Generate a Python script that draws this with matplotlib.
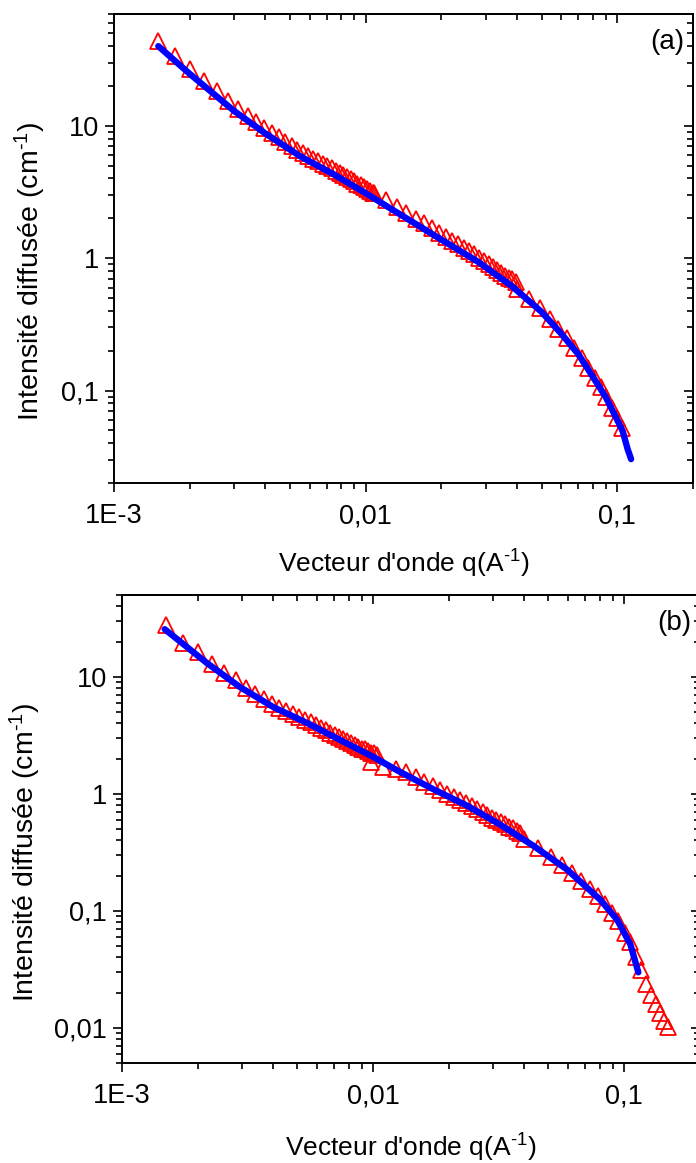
import matplotlib
matplotlib.use('Agg')
import matplotlib.pyplot as plt
from matplotlib.ticker import NullFormatter

plt.rcParams['font.family'] = 'Liberation Sans'
plt.rcParams['mathtext.fontset'] = 'custom'
plt.rcParams['mathtext.rm'] = 'Liberation Sans'
plt.rcParams['mathtext.it'] = 'Liberation Sans:italic'
plt.rcParams['mathtext.bf'] = 'Liberation Sans:bold'

# ---- panel (a) : measured intensity (triangles) and fit (blue line)
q_a_exp = [
    # first configuration
    0.00150, 0.00175, 0.00200, 0.00228, 0.00256, 0.00284, 0.00312, 0.00340, 0.00368, 0.00396,
    0.00424, 0.00452, 0.00480, 0.00508, 0.00536, 0.00564, 0.00592, 0.00620, 0.00648, 0.00676,
    0.00704, 0.00732, 0.00760, 0.00788, 0.00816, 0.00844, 0.00872, 0.00900, 0.00928, 0.00956,
    0.00984, 0.01012, 0.01040, 0.01068,
    # second configuration
    0.0108, 0.0120, 0.0133, 0.0145, 0.0158, 0.0170, 0.0183, 0.0195, 0.0208, 0.0220,
    0.0233, 0.0245, 0.0258, 0.0270, 0.0283, 0.0295, 0.0308, 0.0320, 0.0333, 0.0345,
    0.0358, 0.0370, 0.0383, 0.0395,
    # third configuration
    0.0400, 0.0446, 0.0492, 0.0538, 0.0584, 0.0630, 0.0676, 0.0722, 0.0768, 0.0814,
    0.0860, 0.0906, 0.0952, 0.0998, 0.1044]
i_a_exp = [
    43.6, 33.6, 26.9, 21.8, 18.2, 15.4, 13.4, 11.9, 10.7, 9.64,
    8.85, 8.17, 7.59, 7.05, 6.61, 6.24, 5.94, 5.66, 5.41, 5.19,
    4.97, 4.78, 4.59, 4.41, 4.24, 4.08, 3.94, 3.80, 3.66, 3.56,
    3.44, 3.33, 3.22, 3.12,
    3.11, 2.75, 2.44, 2.21, 1.99, 1.83, 1.68, 1.56, 1.45, 1.36,
    1.27, 1.20, 1.13, 1.07, 1.01, 0.957, 0.902, 0.857, 0.813, 0.774,
    0.736, 0.705, 0.702, 0.665,
    0.589, 0.492, 0.418, 0.348, 0.294, 0.248, 0.210, 0.177, 0.149, 0.125,
    0.106, 0.0899, 0.0743, 0.0625, 0.0522]

q_a_fit = [0.0015, 0.0020, 0.0030, 0.0040, 0.0055, 0.0075, 0.010, 0.014, 0.020, 0.028,
           0.038, 0.050, 0.060, 0.070, 0.080, 0.090, 0.100, 0.105, 0.110, 0.1135]
i_a_fit = [40.0, 24.7, 12.97, 8.74, 5.88, 4.28, 3.10, 2.09, 1.38, 0.938,
           0.618, 0.393, 0.268, 0.188, 0.127, 0.0892, 0.0599, 0.0495, 0.036, 0.0303]

# ---- panel (b)
q_b_exp = [
    0.00150, 0.00175, 0.00200, 0.00228, 0.00256, 0.00284, 0.00312, 0.00340, 0.00368, 0.00396,
    0.00424, 0.00452, 0.00480, 0.00508, 0.00536, 0.00564, 0.00592, 0.00620, 0.00648, 0.00676,
    0.00704, 0.00732, 0.00760, 0.00788, 0.00816, 0.00844, 0.00872, 0.00900, 0.00928, 0.00956,
    0.00984, 0.01012, 0.01040,
    0.0098, 0.0110, 0.0123, 0.0135, 0.0148, 0.0160, 0.0173, 0.0185, 0.0198, 0.0210,
    0.0223, 0.0235, 0.0248, 0.0260, 0.0273, 0.0285, 0.0298, 0.0310, 0.0323, 0.0335,
    0.0348, 0.0360, 0.0373, 0.0385,
    0.0400, 0.0455, 0.0510, 0.0565, 0.0620, 0.0675, 0.0730, 0.0785, 0.0840, 0.0895,
    0.0950, 0.1005, 0.1060, 0.1115, 0.1170, 0.1225, 0.1280, 0.1335, 0.1390, 0.1445,
    0.1500]
i_b_exp = [
    27.7, 19.6, 16.3, 12.8, 10.7, 9.31, 7.96, 7.13, 6.43, 5.85,
    5.46, 5.11, 4.81, 4.54, 4.30, 4.07, 3.86, 3.67, 3.48, 3.33,
    3.18, 3.05, 2.93, 2.81, 2.70, 2.61, 2.52, 2.43, 2.40, 2.33,
    2.25, 2.23, 2.16,
    1.88, 1.69, 1.62, 1.53, 1.38, 1.26, 1.16, 1.08, 1.00, 0.944,
    0.885, 0.836, 0.783, 0.740, 0.697, 0.659, 0.625, 0.596, 0.578, 0.550,
    0.521, 0.505, 0.485, 0.466,
    0.412, 0.343, 0.288, 0.248, 0.211, 0.179, 0.153, 0.133, 0.114, 0.0966,
    0.0815, 0.0650, 0.0537, 0.0403, 0.0310, 0.0236, 0.0190, 0.0159, 0.0133, 0.0114,
    0.0101]

q_b_fit = [0.00148, 0.00218, 0.00295, 0.00400, 0.00546, 0.00740, 0.0100, 0.0128, 0.0173,
           0.0237, 0.0321, 0.0434, 0.0593, 0.0802, 0.0938, 0.106, 0.114]
i_b_fit = [25.5, 13.1, 8.17, 5.52, 4.03, 2.88, 2.07, 1.54, 1.10,
           0.791, 0.545, 0.361, 0.225, 0.125, 0.0841, 0.0516, 0.0298]

# ---- ticks
x_ticks = [0.001, 0.01, 0.1]
x_ticklabels = ['1E-3', '0,01', '0,1']
y_ticks_a = [0.1, 1, 10]
y_ticklabels_a = ['0,1', '1', '10']
y_ticks_b = [0.01, 0.1, 1, 10]
y_ticklabels_b = ['0,01', '0,1', '1', '10']

xlabel = r"Vecteur d'onde q(A$^{\text{-}1}$)"
ylabel = r"Intensité diffusée (cm$^{\text{-}1}$)"


def mirrorTicks(ax):
    # Origin style : ticks on top / right point inside the frame
    secx = ax.secondary_xaxis('top')
    secy = ax.secondary_yaxis('right')
    for sec, axis in ((secx, secx.xaxis), (secy, secy.yaxis)):
        axis.set_major_formatter(NullFormatter())
        axis.set_minor_formatter(NullFormatter())
        sec.tick_params(which='both', direction='in', width=1.2)
        sec.tick_params(which='major', length=6.5)
        sec.tick_params(which='minor', length=4)
        for s in sec.spines.values():
            s.set_linewidth(1.4)


def drawPanel(ax, q_exp, i_exp, q_fit, i_fit, ylim, yticks, yticklabels, tag, xlab_y, ylab_x):
    ax.plot(q_exp, i_exp, linestyle='none', marker='^', ms=11, mfc='none',
            mec='#ff0000', mew=1.3, zorder=2)
    ax.plot(q_fit, i_fit, color='#0000ff', lw=4.6, solid_capstyle='round', zorder=3)

    ax.set_xscale('log')
    ax.set_yscale('log')
    ax.set_xlim(0.001, 0.2)
    ax.set_ylim(*ylim)
    ax.set_xticks(x_ticks, x_ticklabels)
    ax.set_yticks(yticks, yticklabels)
    ax.xaxis.set_minor_formatter(NullFormatter())
    ax.yaxis.set_minor_formatter(NullFormatter())

    ax.tick_params(which='both', direction='out', width=1.2, labelsize=19.5)
    ax.tick_params(which='major', length=6.5)
    ax.tick_params(which='minor', length=4)
    ax.tick_params(axis='x', pad=8)
    ax.tick_params(axis='y', pad=4.5)
    for s in ax.spines.values():
        s.set_linewidth(1.4)
    mirrorTicks(ax)

    ax.set_xlabel(xlabel, fontsize=19)
    ax.xaxis.set_label_coords(0.5, xlab_y)
    ax.set_ylabel(ylabel, fontsize=20.5)
    ax.yaxis.set_label_coords(ylab_x, 0.451)

    ax.text(0.956, 0.94, tag, transform=ax.transAxes, ha='center', va='center', fontsize=20)


fig = plt.figure(figsize=(6.96, 11.63), dpi=100)
ax_a = fig.add_axes([0.16379, 0.58469, 0.83190, 0.40327])
ax_b = fig.add_axes([0.17529, 0.08598, 0.82989, 0.40241])

drawPanel(ax_a, q_a_exp, i_a_exp, q_a_fit, i_a_fit, (0.02, 70),
          y_ticks_a, y_ticklabels_a, '(a)', -0.139, -0.114)
drawPanel(ax_b, q_b_exp, i_b_exp, q_b_fit, i_b_fit, (0.005, 50),
          y_ticks_b, y_ticklabels_b, '(b)', -0.147, -0.137)

fig.savefig('out.png', dpi=100)
